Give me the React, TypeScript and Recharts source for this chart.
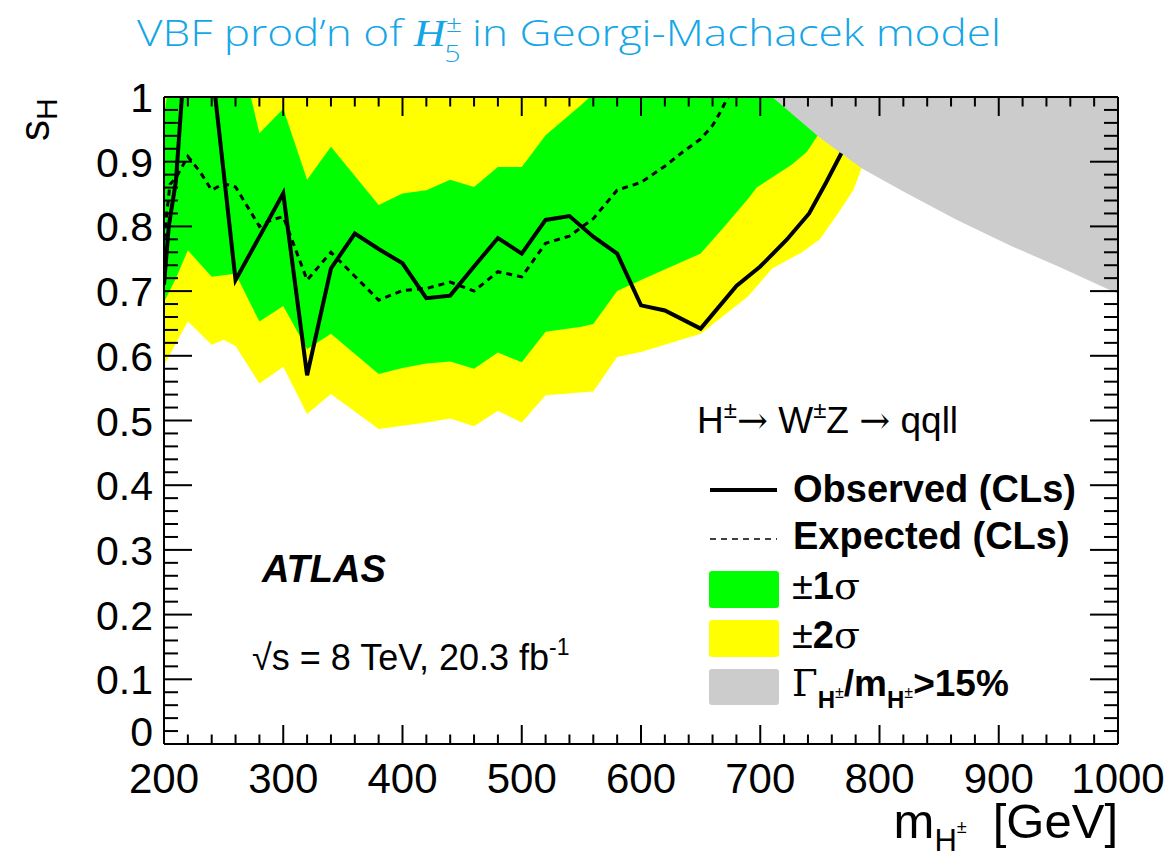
import React from 'react';
import { Area, ComposedChart, Line, XAxis, YAxis } from 'recharts';

if (typeof document !== 'undefined') document.body.style.margin = '0';

// observed limit (solid)
const obsMass = [200, 204, 210, 220, 230, 240, 250, 260, 300, 320, 340, 360, 380, 400, 420, 440, 460, 480, 500, 520, 540, 560, 580, 600, 620, 650, 680, 700, 722, 741, 755, 768];
const obsLimit = [0.71, 0.8, 0.87, 1.13, 1.25, 1.05, 0.884, 0.717, 0.851, 0.57, 0.735, 0.789, 0.765, 0.743, 0.689, 0.693, 0.738, 0.782, 0.758, 0.81, 0.816, 0.784, 0.758, 0.678, 0.67, 0.642, 0.708, 0.738, 0.779, 0.82, 0.867, 0.913];

// expected limit (dashed)
const expMass = [200, 205, 210, 220, 230, 240, 250, 260, 280, 290, 300, 320, 340, 360, 380, 400, 420, 440, 460, 480, 500, 520, 540, 560, 580, 600, 620, 635, 650, 660, 666, 673, 680];
const expLimit = [0.78, 0.865, 0.875, 0.908, 0.885, 0.856, 0.866, 0.861, 0.8, 0.81, 0.815, 0.717, 0.76, 0.723, 0.686, 0.701, 0.704, 0.714, 0.7, 0.73, 0.722, 0.774, 0.785, 0.812, 0.856, 0.868, 0.893, 0.915, 0.935, 0.956, 0.975, 1.0, 1.02];

// +-1 sigma band
const oneSigMass = [200, 210, 220, 240, 260, 280, 300, 320, 340, 380, 400, 420, 440, 460, 480, 500, 520, 550, 560, 580, 600, 650, 670, 690, 697, 726, 739, 748];
const oneSigLow = [0.683, 0.72, 0.763, 0.722, 0.727, 0.653, 0.677, 0.61, 0.634, 0.572, 0.581, 0.588, 0.591, 0.58, 0.605, 0.59, 0.637, 0.645, 0.649, 0.7, 0.717, 0.758, 0.8, 0.843, 0.86, 0.895, 0.915, 0.94];
const oneSigHigh = [0.97, 1.1, 1.15, 1.15, 1.1, 0.944, 0.982, 0.872, 0.923, 0.833, 0.851, 0.856, 0.872, 0.861, 0.892, 0.892, 0.941, 0.988, 1.005, 1.04, 1.07, 1.12, 1.14, 1.16, 1.17, 1.2, 1.21, 1.22];

// +-2 sigma band
const twoSigMass = [200, 220, 240, 250, 260, 280, 300, 320, 340, 380, 400, 420, 440, 460, 480, 500, 520, 560, 580, 600, 650, 690, 710, 735, 750, 767, 778, 785];
const twoSigLow = [0.585, 0.653, 0.617, 0.625, 0.615, 0.557, 0.583, 0.51, 0.541, 0.487, 0.492, 0.497, 0.503, 0.491, 0.515, 0.497, 0.539, 0.545, 0.598, 0.606, 0.634, 0.692, 0.735, 0.76, 0.78, 0.825, 0.856, 0.89];
const twoSigHigh = [1.06, 1.2, 1.25, 1.25, 1.25, 1.2, 1.2, 1.15, 1.18, 1.1, 1.1, 1.1, 1.12, 1.12, 1.15, 1.15, 1.2, 1.22, 1.25, 1.28, 1.3, 1.33, 1.35, 1.36, 1.37, 1.38, 1.39, 1.4];

// width / mass > 15% excluded region
const wideMass = [710, 750, 785, 820, 865, 910, 950, 1000];
const wideLow = [1.0, 0.937, 0.89, 0.854, 0.81, 0.77, 0.738, 0.696];
const wideHigh = [1.05, 1.05, 1.05, 1.05, 1.05, 1.05, 1.05, 1.05];

const xMajor = [200, 300, 400, 500, 600, 700, 800, 900, 1000];
const yMajor = [0, 0.1, 0.2, 0.3, 0.4, 0.5, 0.6, 0.7, 0.8, 0.9, 1];
const yLabels = ['0', '0.1', '0.2', '0.3', '0.4', '0.5', '0.6', '0.7', '0.8', '0.9', '1'];

const xTicks = Array.from({ length: 41 }, (_, i) => 200 + 20 * i);
const yTicks = Array.from({ length: 51 }, (_, i) => (2 * i) / 100);

const FONT = '"Liberation Sans", Arial, Helvetica, sans-serif';
const SYM = '"DejaVu Serif", "Liberation Serif", serif';

const line = (m: number[], v: number[]) => m.map((x, i) => ({ m: x, v: v[i] }));
const band = (m: number[], lo: number[], hi: number[]) => m.map((x, i) => ({ m: x, band: [lo[i], hi[i]] }));

const majorYIndex = (v: number) => yMajor.findIndex((t) => Math.abs(t - v) < 1e-6);

function BottomTick(props: any) {
  const { x, y, payload } = props;
  const major = xMajor.includes(payload.value);
  return (
    <g>
      <line x1={x} x2={x} y1={y} y2={y - (major ? 19 : 9.5)} stroke="#000" strokeWidth={2} />
      {major && (
        <text x={x} y={y + 49} textAnchor="middle" fontFamily={FONT} fontSize={42} fill="#000">
          {payload.value}
        </text>
      )}
    </g>
  );
}

function TopTick(props: any) {
  const { x, y, payload } = props;
  const major = xMajor.includes(payload.value);
  return <line x1={x} x2={x} y1={y} y2={y + (major ? 19 : 9.5)} stroke="#000" strokeWidth={2} />;
}

function LeftTick(props: any) {
  const { x, y, payload } = props;
  const idx = majorYIndex(payload.value);
  const major = idx >= 0;
  return (
    <g>
      <line x1={x} x2={x + (major ? 28 : 14)} y1={y} y2={y} stroke="#000" strokeWidth={2} />
      {major && (
        <text x={x - 11} y={y + (idx === 0 ? 2 : 15)} textAnchor="end" fontFamily={FONT} fontSize={41} fill="#000">
          {yLabels[idx]}
        </text>
      )}
    </g>
  );
}

function RightTick(props: any) {
  const { x, y, payload } = props;
  const major = majorYIndex(payload.value) >= 0;
  return <line x1={x} x2={x - (major ? 28 : 14)} y1={y} y2={y} stroke="#000" strokeWidth={2} />;
}

function Overlay() {
  return (
    <svg width={1170} height={864} style={{ position: 'absolute', left: 0, top: 0, pointerEvents: 'none' }}>
      <text
        x={137}
        y={46}
        textLength={864}
        lengthAdjust="spacingAndGlyphs"
        fontFamily='"Open Sans", Roboto, sans-serif'
        fontWeight={300}
        fontSize={37}
        fill="#14a6e6"
      >
        VBF prod’n of{' '}
        <tspan fontFamily='"Liberation Serif", serif' fontStyle="italic" fontWeight={400}>H</tspan>
        <tspan fontSize={24} dy={-14}>±</tspan>
        <tspan fontSize={24} dx={-15} dy={30}>5</tspan>
        <tspan dy={-16}> in Georgi-Machacek model</tspan>
      </text>

      <text transform="translate(49,141) rotate(-90)" fontFamily={FONT} fontSize={42} fill="#000">
        s<tspan fontSize={30} dy={8}>H</tspan>
      </text>

      <text x={1118} y={838} textAnchor="end" fontFamily={FONT} fontSize={49} fill="#000">
        m<tspan fontSize={31} dy={13}>H</tspan>
        <tspan fontSize={18} dy={-18}>±</tspan>
        <tspan dx={26} dy={5}>[GeV]</tspan>
      </text>

      <text x={697} y={433} fontFamily={FONT} fontSize={37} fill="#000">
        H<tspan fontSize={24} dy={-15}>±</tspan>
        <tspan dy={15} fontFamily={SYM}>→</tspan> W<tspan fontSize={24} dy={-15}>±</tspan>
        <tspan dy={15}>Z </tspan>
        <tspan fontFamily={SYM}>→</tspan> qqll
      </text>

      <line x1={710} x2={777} y1={490} y2={490} stroke="#000" strokeWidth={4} />
      <text x={793} y={502} fontFamily={FONT} fontWeight="bold" fontSize={38} fill="#000">Observed (CLs)</text>
      <line x1={710} x2={777} y1={539} y2={539} stroke="#000" strokeWidth={1.5} strokeDasharray="6 5" />
      <text x={793} y={549} fontFamily={FONT} fontWeight="bold" fontSize={38} fill="#000">Expected (CLs)</text>

      <rect x={709} y={571} width={70} height={37} rx={3} fill="#00ff00" />
      <text x={792} y={599} fontFamily={FONT} fontSize={38} fill="#000">
        ±<tspan fontWeight="bold">1</tspan><tspan fontFamily={SYM}>σ</tspan>
      </text>
      <rect x={709} y={620} width={70} height={37} rx={3} fill="#ffff00" />
      <text x={792} y={648} fontFamily={FONT} fontSize={38} fill="#000">
        ±<tspan fontWeight="bold">2</tspan><tspan fontFamily={SYM}>σ</tspan>
      </text>
      <rect x={709} y={669} width={70} height={36} rx={3} fill="#cccccc" />
      <text x={792} y={696} fontFamily={FONT} fontSize={37} fontWeight="bold" fill="#000">
        <tspan fontFamily={SYM} fontWeight="normal">Γ</tspan>
        <tspan fontSize={24} dy={12}>H</tspan><tspan fontSize={16} fontWeight="normal" dy={-10}>±</tspan>
        <tspan dy={-2}>/m</tspan>
        <tspan fontSize={24} dy={12}>H</tspan><tspan fontSize={16} fontWeight="normal" dy={-10}>±</tspan>
        <tspan dy={-2}>&gt;15%</tspan>
      </text>

      <text x={262} y={582} fontFamily={FONT} fontWeight="bold" fontStyle="italic" fontSize={38} fill="#000">ATLAS</text>
      <text x={252} y={670} fontFamily={FONT} fontSize={36} fill="#000">
        √s = 8 TeV, 20.3 fb<tspan fontSize={23} dy={-15}>-1</tspan>
      </text>
    </svg>
  );
}

export default function App() {
  return (
    <div style={{ position: 'relative', width: 1170, height: 864, background: '#fff' }}>
      <ComposedChart width={1170} height={864} margin={{ top: 96, right: 51, bottom: 119, left: 163 }}>
        <Area data={band(twoSigMass, twoSigLow, twoSigHigh)} dataKey="band" type="linear" stroke="none" fill="#ffff00" fillOpacity={1} isAnimationActive={false} />
        <Area data={band(oneSigMass, oneSigLow, oneSigHigh)} dataKey="band" type="linear" stroke="none" fill="#00ff00" fillOpacity={1} isAnimationActive={false} />
        <Area data={band(wideMass, wideLow, wideHigh)} dataKey="band" type="linear" stroke="none" fill="#cccccc" fillOpacity={1} isAnimationActive={false} />
        <Line data={line(expMass, expLimit)} dataKey="v" type="linear" stroke="#000" strokeWidth={3} strokeDasharray="6 5" dot={false} isAnimationActive={false} />
        <Line data={line(obsMass, obsLimit)} dataKey="v" type="linear" stroke="#000" strokeWidth={4} dot={false} isAnimationActive={false} />
        <XAxis
          type="number"
          dataKey="m"
          domain={[200, 1000]}
          allowDataOverflow
          ticks={xTicks}
          interval={0}
          height={1}
          tickSize={0}
          tickMargin={0}
          tickLine={false}
          axisLine={{ stroke: '#000', strokeWidth: 2 }}
          tick={<BottomTick />}
        />
        <XAxis
          xAxisId="top"
          orientation="top"
          type="number"
          dataKey="m"
          domain={[200, 1000]}
          allowDataOverflow
          ticks={xTicks}
          interval={0}
          height={1}
          tickSize={0}
          tickMargin={0}
          tickLine={false}
          axisLine={{ stroke: '#000', strokeWidth: 2 }}
          tick={<TopTick />}
        />
        <YAxis
          type="number"
          domain={[0, 1]}
          allowDataOverflow
          ticks={yTicks}
          interval={0}
          width={1}
          tickSize={0}
          tickMargin={0}
          tickLine={false}
          axisLine={{ stroke: '#000', strokeWidth: 2 }}
          tick={<LeftTick />}
        />
        <YAxis
          yAxisId="right"
          orientation="right"
          type="number"
          domain={[0, 1]}
          allowDataOverflow
          ticks={yTicks}
          interval={0}
          width={1}
          tickSize={0}
          tickMargin={0}
          tickLine={false}
          axisLine={{ stroke: '#000', strokeWidth: 2 }}
          tick={<RightTick />}
        />
      </ComposedChart>
      <Overlay />
    </div>
  );
}
